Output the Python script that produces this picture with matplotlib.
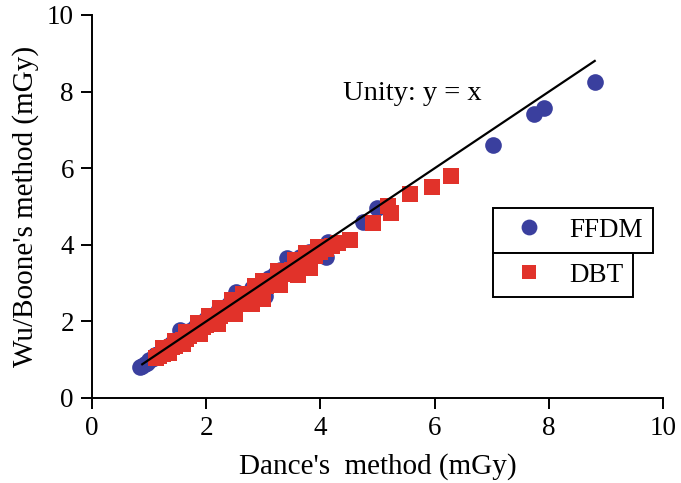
import matplotlib.pyplot as plt

plt.rcParams['font.family'] = ['Liberation Serif', 'DejaVu Serif']

# FFDM (blue circles) - Dance's method vs Wu/Boone's method
ffdm_x = [0.84, 0.88, 0.92, 0.96, 1.0, 1.05, 1.1, 1.15, 1.22, 1.3, 1.38, 1.45, 1.54, 1.6, 1.7,
          1.8, 1.9, 2.0, 2.1, 2.2, 2.3, 2.4, 2.53, 2.6, 2.7, 2.8, 2.9, 3.03, 3.1, 3.2, 3.3,
          3.41, 3.5, 3.64, 3.8, 3.95, 4.1, 4.13, 4.75, 4.99, 7.02, 7.73, 7.92, 8.81]
ffdm_y = [0.82, 0.84, 0.9, 0.92, 0.98, 1.02, 1.12, 1.15, 1.25, 1.32, 1.42, 1.5, 1.78, 1.66, 1.76,
          1.86, 1.96, 2.06, 2.14, 2.26, 2.34, 2.46, 2.78, 2.64, 2.72, 2.86, 2.94, 2.65, 3.14, 3.24, 3.34,
          3.65, 3.55, 3.69, 3.82, 3.9, 3.69, 4.08, 4.6, 4.95, 6.6, 7.41, 7.56, 8.26]

# DBT (red squares)
dbt_x = [1.12, 1.18, 1.25, 1.3, 1.35, 1.4, 1.45, 1.5, 1.55, 1.6, 1.65, 1.7, 1.75, 1.8, 1.85,
         1.9, 1.95, 2.0, 2.05, 2.1, 2.15, 2.2, 2.25, 2.3, 2.35, 2.4, 2.45, 2.5, 2.55, 2.6,
         2.68, 2.75, 2.82, 2.9, 2.98, 3.05, 3.12, 3.2, 3.3, 3.4, 3.5, 3.6, 3.7, 3.8, 3.9,
         4.0, 4.1, 4.2, 4.3, 4.52,
         1.25, 1.45, 1.65, 1.85, 2.05, 2.25, 2.45, 2.65, 2.85, 3.0, 3.25, 3.55, 3.75, 3.95,
         1.35, 1.6, 1.9, 2.2, 2.5, 2.8, 3.0, 3.3, 3.6, 3.82,
         4.92, 5.18, 5.23, 5.56, 5.95, 6.28]
dbt_y = [1.05, 1.1, 1.15, 1.22, 1.25, 1.32, 1.35, 1.42, 1.45, 1.52, 1.55, 1.62, 1.66, 1.72, 1.75,
         1.8, 1.86, 1.9, 1.96, 2.0, 2.06, 2.1, 2.15, 2.2, 2.26, 2.3, 2.35, 2.4, 2.45, 2.5,
         2.56, 2.62, 2.7, 2.78, 2.85, 2.92, 3.0, 3.05, 3.15, 3.25, 3.35, 3.45, 3.55, 3.62, 3.7,
         3.8, 3.88, 3.98, 4.05, 4.12,
         1.3, 1.5, 1.72, 1.95, 2.15, 2.35, 2.55, 2.72, 2.92, 3.05, 3.32, 3.6, 3.78, 3.95,
         1.18, 1.4, 1.66, 1.94, 2.2, 2.45, 2.58, 2.95, 3.2, 3.4,
         4.56, 5.0, 4.82, 5.32, 5.5, 5.8]

unity_x = [0.88, 8.8]

blue = '#3a3f9e'
red = '#e1322a'

fig = plt.figure(figsize=(6.81, 4.83), dpi=100)
ax = fig.add_axes([0.135, 0.176, 0.839, 0.793])

h1, = ax.plot(ffdm_x, ffdm_y, 'o', color=blue, markersize=12, markeredgewidth=0, label='FFDM')
h2, = ax.plot(dbt_x, dbt_y, 's', color=red, markersize=11, markeredgewidth=0, label='DBT')
ax.plot(unity_x, unity_x, color='black', linewidth=1.6)

ax.text(4.4, 7.95, 'Unity: y = x', fontsize=20.5, va='center', ha='left')

ax.set_xlim(0, 10)
ax.set_ylim(0, 10)
ax.set_xticks([0, 2, 4, 6, 8, 10])
ax.set_yticks([0, 2, 4, 6, 8, 10])
ax.spines['top'].set_visible(False)
ax.spines['right'].set_visible(False)
for s in ['left', 'bottom']:
    ax.spines[s].set_linewidth(1.4)
ax.tick_params(direction='out', length=8, width=1.4, labelsize=19.5, pad=5)

ax.set_xlabel("Dance's  method (mGy)", fontsize=21, labelpad=9)
ax.set_ylabel("Wu/Boone's method (mGy)", fontsize=21, labelpad=6)

leg_kw = dict(loc='upper left', frameon=True, fancybox=False, framealpha=1, edgecolor='black',
              fontsize=19.5, borderaxespad=0, handlelength=1.95, handletextpad=0.5, borderpad=0.36,
              markerscale=0.95)
leg1 = ax.legend(handles=[h1], bbox_to_anchor=(0.702, 0.496), **leg_kw)
leg1.get_frame().set_linewidth(1.4)
ax.add_artist(leg1)
leg2 = ax.legend(handles=[h2], bbox_to_anchor=(0.702, 0.379), **leg_kw)
leg2.get_frame().set_linewidth(1.4)

fig.savefig('out.png', dpi=100)
